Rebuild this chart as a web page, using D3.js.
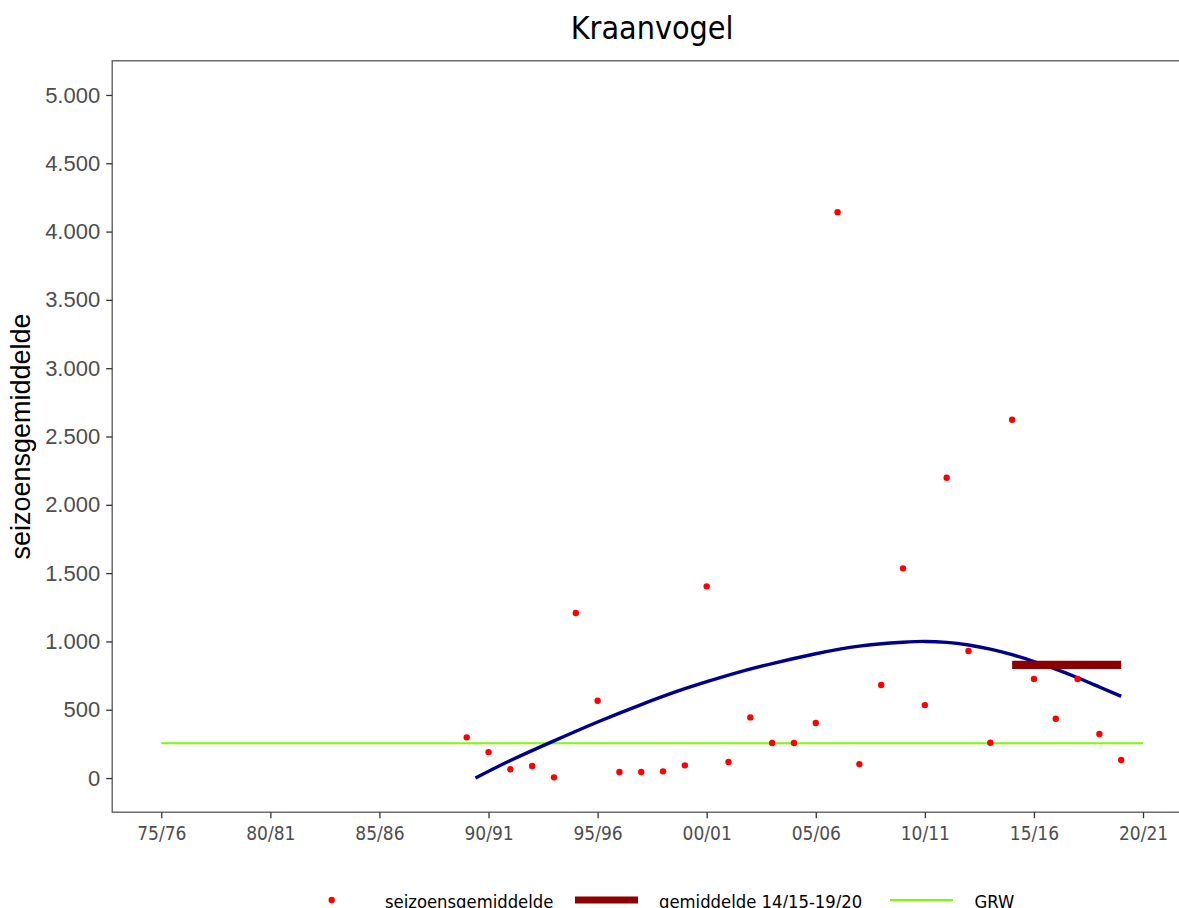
<!DOCTYPE html>
<html><head><meta charset="utf-8">
<script src="https://cdn.jsdelivr.net/npm/d3@7"></script>
<style>body{margin:0;background:#fff;} svg{display:block}</style>
</head><body><svg id="c" width="1179" height="908"></svg>
<script>
// ---- data ----
const title = "Kraanvogel";
const yTitle = "seizoensgemiddelde";
const years = [1989,1990,1991,1992,1993,1994,1995,1996,1997,1998,1999,2000,2001,2002,2003,2004,2005,2006,2007,2008,2009,2010,2011,2012,2013,2014,2015,2016,2017,2018,2019];
const seasonValues = [298,190,64,88,5,1208,566,44,44,49,93,1403,117,444,256,256,403,4141,102,681,1535,534,2198,930,258,2623,725,434,725,322,132];
const trendYears = [1989.4,1991,1993,1995,1997,1999,2001,2003,2005,2007,2009,2010,2011,2012,2013,2014,2015,2016,2017,2018,2019];
const trendValues = [0,128,272,410,538,654,754,838,910,966,994,1000,993,974,944,903,853,797,734,666,598];
const avgYears = [2014,2019];
const avgValues = [828,828];
const grwYears = [1975,2020];
const grwValues = [255,255];
const xTickYears = [1975,1980,1985,1990,1995,2000,2005,2010,2015,2020];
const xTickLabels = ["75/76","80/81","85/86","90/91","95/96","00/01","05/06","10/11","15/16","20/21"];
const yTickValues = [0,500,1000,1500,2000,2500,3000,3500,4000,4500,5000];
const legendLabels = ["seizoensgemiddelde","gemiddelde 14/15-19/20","GRW"];

// ---- layout ----
const svg = d3.select("#c");
const x = d3.scaleLinear().domain([1972.75, 2022.25]).range([112.2, 1192.1]);
const y = d3.scaleLinear().domain([-250, 5250]).range([812.2, 60.8]);
const fmt = d3.formatLocale({decimal:",", thousands:".", grouping:[3], currency:["€",""]}).format(",d");
const condensed = "'DejaVu Sans Condensed', 'DejaVu Sans', sans-serif";
const arial = "'Liberation Sans', Arial, sans-serif";

svg.append("defs").append("clipPath").attr("id","clip")
  .append("rect").attr("x",x.range()[0]).attr("y",y.range()[1])
  .attr("width",x.range()[1]-x.range()[0]).attr("height",y.range()[0]-y.range()[1]);

const plot = svg.append("g").attr("clip-path","url(#clip)");

// GRW line
plot.append("path").datum(grwYears.map((d,i)=>[d,grwValues[i]]))
  .attr("d", d3.line().x(d=>x(d[0])).y(d=>y(d[1])))
  .attr("fill","none").attr("stroke","#7CFC00").attr("stroke-width",2);

// trend
plot.append("path").datum(trendYears.map((d,i)=>[d,trendValues[i]]))
  .attr("d", d3.line().curve(d3.curveNatural).x(d=>x(d[0])).y(d=>y(d[1])))
  .attr("fill","none").attr("stroke","#00008B").attr("stroke-width",3.4);

// average bar
plot.append("path").datum(avgYears.map((d,i)=>[d,avgValues[i]]))
  .attr("d", d3.line().x(d=>x(d[0])).y(d=>y(d[1])))
  .attr("fill","none").attr("stroke","#8B0000").attr("stroke-width",8.3);

// points
plot.selectAll("circle.pt").data(years.map((d,i)=>[d,seasonValues[i]])).enter()
  .append("circle").attr("class","pt")
  .attr("cx",d=>x(d[0])).attr("cy",d=>y(d[1])).attr("r",3.2).attr("fill","#FF0000");

// panel border
svg.append("rect").attr("x",x.range()[0]).attr("y",y.range()[1])
  .attr("width",x.range()[1]-x.range()[0]).attr("height",y.range()[0]-y.range()[1])
  .attr("fill","none").attr("stroke","#555").attr("stroke-width",1.3);

// x axis
const xAxis = svg.append("g").attr("transform",`translate(0,${y.range()[0]})`)
  .call(d3.axisBottom(x).tickValues(xTickYears).tickFormat((d,i)=>xTickLabels[i]).tickSize(6).tickPadding(8));
xAxis.select(".domain").remove();
xAxis.selectAll(".tick line").attr("stroke","#333").attr("stroke-width",1.3);
xAxis.selectAll(".tick text").attr("fill","#4d4d4d").style("font-family",condensed).style("font-size","19px");

// y axis
const yAxis = svg.append("g").attr("transform",`translate(${x.range()[0]},0)`)
  .call(d3.axisLeft(y).tickValues(yTickValues).tickFormat(fmt).tickSize(6).tickPadding(6));
yAxis.select(".domain").remove();
yAxis.selectAll(".tick line").attr("stroke","#333").attr("stroke-width",1.3);
yAxis.selectAll(".tick text").attr("fill","#4d4d4d").style("font-family",arial).style("font-size","22px");

// titles
svg.append("text").attr("x",(x.range()[0]+x.range()[1])/2).attr("y",38.5)
  .attr("text-anchor","middle").style("font-family",condensed).style("font-size","32px").attr("fill","#000").text(title);
svg.append("text").attr("transform",`translate(30,${(y.range()[0]+y.range()[1])/2}) rotate(-90)`)
  .attr("text-anchor","middle").style("font-family",arial).style("font-size","27px").attr("fill","#000").text(yTitle);

// legend
const lg = svg.append("g");
const ly = 900;
lg.append("circle").attr("cx",331.7).attr("cy",ly).attr("r",3.2).attr("fill","#FF0000");
lg.append("line").attr("x1",575).attr("x2",638).attr("y1",ly).attr("y2",ly).attr("stroke","#8B0000").attr("stroke-width",7);
lg.append("line").attr("x1",890).attr("x2",953).attr("y1",ly).attr("y2",ly).attr("stroke","#7CFC00").attr("stroke-width",2);
const lx = [385,659,974.5];
legendLabels.forEach((t,i)=>{
  lg.append("text").attr("x",lx[i]).attr("y",908).style("font-family",condensed).style("font-size","18.3px").attr("fill","#000").text(t);
});
</script></body></html>
